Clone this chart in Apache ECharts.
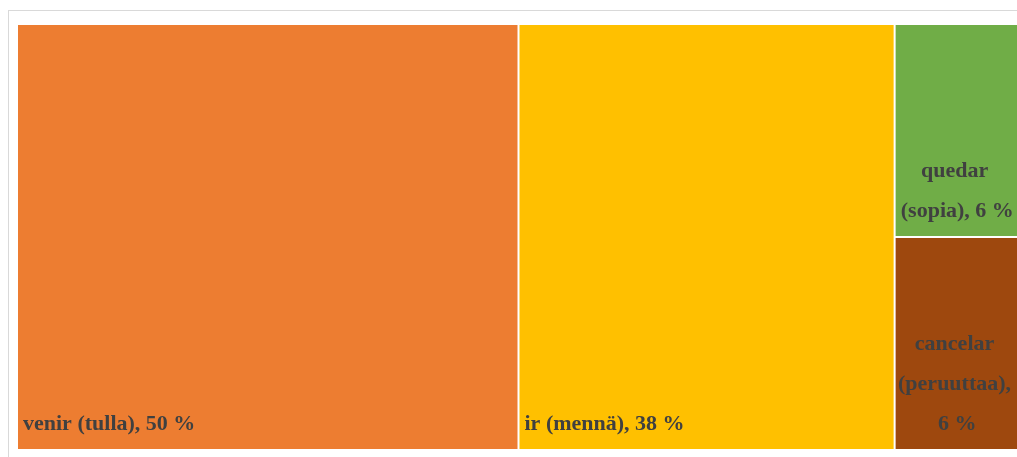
<!DOCTYPE html>
<html>
<head>
<meta charset="utf-8">
<script src="https://cdn.jsdelivr.net/npm/echarts@6/dist/echarts.min.js"></script>
<style>
html, body { margin: 0; padding: 0; background: #fff; overflow: hidden; }
.frame {
  position: absolute; left: 8px; top: 10px; width: 1100px; height: 500px;
  border: 1px solid #d9d9d9; box-sizing: border-box;
}
#chart { position: absolute; left: 0; top: 0; width: 1017px; height: 457px; }
</style>
</head>
<body>
<div class="frame"></div>
<div id="chart"></div>
<script>
// shares of each verb (%)
const names = ['venir (tulla)', 'ir (mennä)', 'quedar (sopia)', 'cancelar (peruuttaa)'];
const shares = [50, 37.5, 6.25, 6.25];
const colors = ['#ED7D31', '#FFC000', '#70AD47', '#9E480E'];

const chart = echarts.init(document.getElementById('chart'));

const data = names.map((name, i) => {
  const small = i >= 2;
  return {
    name,
    value: shares[i],
    itemStyle: { color: colors[i] },
    label: small ? { position: 'insideBottom', align: 'center' } : {}
  };
});

chart.setOption({
  animation: false,
  series: [{
    type: 'treemap',
    left: 18,
    top: 25,
    width: 1001,
    height: 424,
    sort: false,
    roam: false,
    nodeClick: false,
    breadcrumb: { show: false },
    levels: [{ itemStyle: { gapWidth: 2, borderWidth: 0, borderColor: '#fff' } }],
    label: {
      show: true,
      position: 'insideBottomLeft',
      distance: 5,
      padding: 0,
      overflow: 'break',
      color: '#404040',
      fontFamily: '"Liberation Serif", "Times New Roman", serif',
      fontWeight: 'bold',
      fontSize: 22,
      lineHeight: 40,
      formatter: p => p.name + ', ' + Math.round(p.value) + ' %'
    },
    upperLabel: { show: false },
    data
  }]
});
</script>
</body>
</html>
